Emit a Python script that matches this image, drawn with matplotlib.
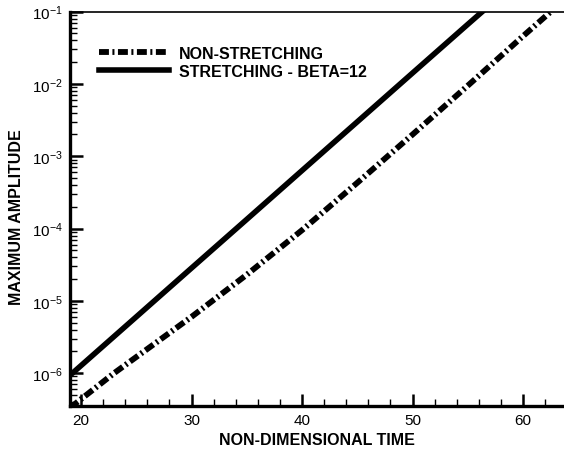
import matplotlib
matplotlib.use('Agg')
import matplotlib.pyplot as plt
from matplotlib.ticker import LogLocator, MultipleLocator

plt.rcParams['font.family'] = 'Liberation Sans'
plt.rcParams['mathtext.default'] = 'regular'
plt.rcParams['axes.unicode_minus'] = False

# Growth of the maximum amplitude with time
time_plain = [19, 23, 30, 35, 40, 45, 50, 55, 60, 62.5]
amp_plain = [3.3e-7, 1.0e-6, 6.0e-6, 2.3e-5, 9.5e-5, 4.3e-4, 2.0e-3, 9.5e-3, 4.6e-2, 1.0e-1]

time_stretch = [19, 25, 30, 35, 40, 45, 50, 55, 56.3]
amp_stretch = [9.3e-7, 6.0e-6, 2.84e-5, 1.34e-4, 6.35e-4, 3.0e-3, 1.42e-2, 6.7e-2, 1.0e-1]

fig = plt.figure(figsize=(5.64, 4.52), dpi=100)
ax = fig.add_axes([70 / 564, 1 - 407 / 452, 1 - 70 / 564, (407 - 12.7) / 452])

ax.plot(time_plain, amp_plain, color='black', lw=4.2,
        linestyle=(0, (1.7, 0.6, 0.35, 0.6)), label='NON-STRETCHING')
ax.plot(time_stretch, amp_stretch, color='black', lw=4,
        label='STRETCHING - BETA=12')

ax.set_yscale('log')
ax.set_xlim(19.0, 63.7)
ax.set_ylim(3.5e-7, 1e-1)

ax.xaxis.set_major_locator(MultipleLocator(10))
ax.xaxis.set_minor_locator(MultipleLocator(2))
ax.yaxis.set_major_locator(LogLocator(base=10, numticks=20))
ax.yaxis.set_minor_locator(LogLocator(base=10, subs=range(2, 10), numticks=20))

ax.tick_params(which='both', direction='in', top=False, right=False, labelsize=11)
ax.tick_params(which='major', length=9, width=1.8, pad=5)
ax.tick_params(which='minor', length=5, width=1.0)

ax.spines['right'].set_visible(False)
ax.spines['top'].set_linewidth(1.2)
ax.spines['left'].set_linewidth(2.4)
ax.spines['bottom'].set_linewidth(2.4)

ax.set_xlabel('NON-DIMENSIONAL TIME', fontsize=11.5, fontweight='bold', va='center')
ax.xaxis.set_label_coords(0.5, -34 / 394.3)
ax.set_ylabel('MAXIMUM AMPLITUDE', fontsize=11.5, fontweight='bold', va='center')
ax.yaxis.set_label_coords(-53 / 494, 0.482)

ax.legend(loc='upper left', bbox_to_anchor=(0.029, 0.95), frameon=False,
          prop={'weight': 'bold', 'size': 11.5}, handlelength=4.4,
          handletextpad=0.6, labelspacing=0.2)

fig.savefig('out.png', dpi=100)
